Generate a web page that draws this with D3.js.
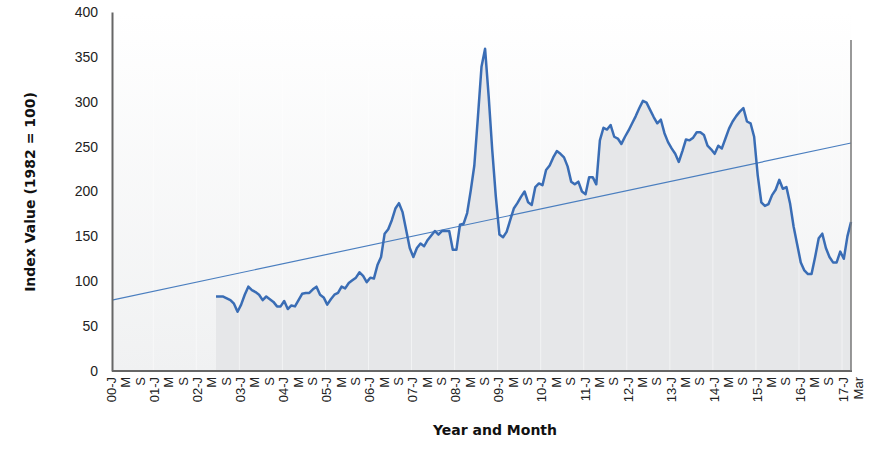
<!DOCTYPE html>
<html><head><meta charset="utf-8">
<script src="https://cdn.jsdelivr.net/npm/d3@7"></script>
<style>body{margin:0;background:#fff}</style>
</head><body>
<svg id="c" width="870" height="451"></svg>
<script>
// months from Jan 2000 (index 0) to Mar 2017 (index 206); data starts Jun 2002 (index 29)
const startIndex = 29;
const values = [83,83,83,81,79,75,66,74,85,94,90,88,85,79,83,80,77,72,72,78,69,73,72,79,86,87,87,91,94,85,82,74,80,85,87,94,92,98,101,104,110,106,99,104,103,118,127,153,158,168,181,187,177,157,137,127,137,142,139,146,151,156,152,156,156,156,135,135,163,164,176,201,229,283,339,359,306,246,194,152,149,155,168,181,187,194,200,188,185,205,209,207,224,229,238,245,242,238,228,211,208,211,200,197,216,216,208,257,271,269,274,261,259,253,261,268,276,284,293,301,299,291,283,276,280,265,255,248,242,233,245,258,257,260,266,266,263,251,247,242,251,248,259,270,278,284,289,293,278,276,261,218,188,184,186,196,202,213,203,205,187,161,141,121,112,108,108,127,148,153,137,127,121,121,133,125,150,166];
const trendEnds = [79, 254];
const years = ["00","01","02","03","04","05","06","07","08","09","10","11","12","13","14","15","16","17"];
const monthLetters = ["J","M","S"];
const yTicks = [0,50,100,150,200,250,300,350,400];
const nMonths = 207;

const tickLabels = [];
for (let i = 0; i < nMonths; i += 4) {
  const y = Math.floor(i/12), m = (i%12)/4;
  tickLabels.push({i, t: m === 0 ? years[y] + "-J" : monthLetters[m]});
}
tickLabels.push({i: 206, t: "Mar", dx: 8});

const svg = d3.select("#c");
const L = 112, R = 851, T = 12, B = 371;
const x = d3.scaleLinear().domain([0, nMonths-1]).range([L, R]);
const y = d3.scaleLinear().domain([0, 400]).range([B, T]);

const defs = svg.append("defs");
const g1 = defs.append("linearGradient").attr("id","bg").attr("x1",0).attr("x2",0).attr("y1",0).attr("y2",1);
g1.append("stop").attr("offset","0").attr("stop-color","#ffffff");
g1.append("stop").attr("offset","1").attr("stop-color","#f0f1f2");
svg.append("rect").attr("x",L).attr("y",T).attr("width",R-L).attr("height",B-T).attr("fill","url(#bg)");

const data = values.map((v,k)=>({i:startIndex+k, v}));
svg.append("path").datum(data)
  .attr("d", d3.area().x(d=>x(d.i)).y0(y(0)).y1(d=>y(d.v)))
  .attr("fill","#e6e7e9");
for (let yr = 1; yr <= 17; yr++) {
  svg.append("line").attr("x1",x(yr*12-0.5)).attr("x2",x(yr*12-0.5)).attr("y1",y(0)).attr("y2",T+60)
    .attr("stroke","#ffffff").attr("stroke-opacity",0.5).attr("stroke-width",1);
}

svg.append("line").attr("x1",x(0)).attr("x2",x(nMonths-1)).attr("y1",y(trendEnds[0])).attr("y2",y(trendEnds[1]))
  .attr("stroke","#4a7ebf").attr("stroke-width",1.2);

svg.append("path").datum(data)
  .attr("d", d3.line().x(d=>x(d.i)).y(d=>y(d.v)))
  .attr("fill","none").attr("stroke","#3a6db5").attr("stroke-width",2.5).attr("stroke-linejoin","round");

const ya = svg.append("g").attr("transform",`translate(${L},0)`)
  .call(d3.axisLeft(y).tickValues(yTicks).tickSize(0).tickPadding(14));
ya.select(".domain").attr("stroke","#666").attr("stroke-width",2);
ya.selectAll("text").attr("font-family","Liberation Sans, Arial").attr("font-size",14).attr("fill","#222");

svg.append("line").attr("x1",L).attr("x2",R+1).attr("y1",B).attr("y2",B).attr("stroke","#666").attr("stroke-width",2);
svg.append("line").attr("x1",R).attr("x2",R).attr("y1",40).attr("y2",B).attr("stroke","#777").attr("stroke-width",1.5);

svg.append("g").selectAll("text").data(tickLabels).join("text")
  .attr("transform", d=>`translate(${x(d.i)+4+(d.dx||0)},${B+6}) rotate(-90)`)
  .attr("text-anchor","end")
  .attr("font-family","Liberation Sans, Arial").attr("font-size",13).attr("fill","#222")
  .text(d=>d.t);

svg.append("text").attr("x",495).attr("y",435).attr("text-anchor","middle")
  .attr("font-family","DejaVu Sans").attr("font-weight","bold").attr("font-size",14).attr("fill","#111")
  .text("Year and Month");
svg.append("text").attr("transform","translate(35,192) rotate(-90)").attr("text-anchor","middle")
  .attr("font-family","DejaVu Sans").attr("font-weight","bold").attr("font-size",14).attr("fill","#111")
  .text("Index Value (1982 = 100)");
</script>
</body></html>
